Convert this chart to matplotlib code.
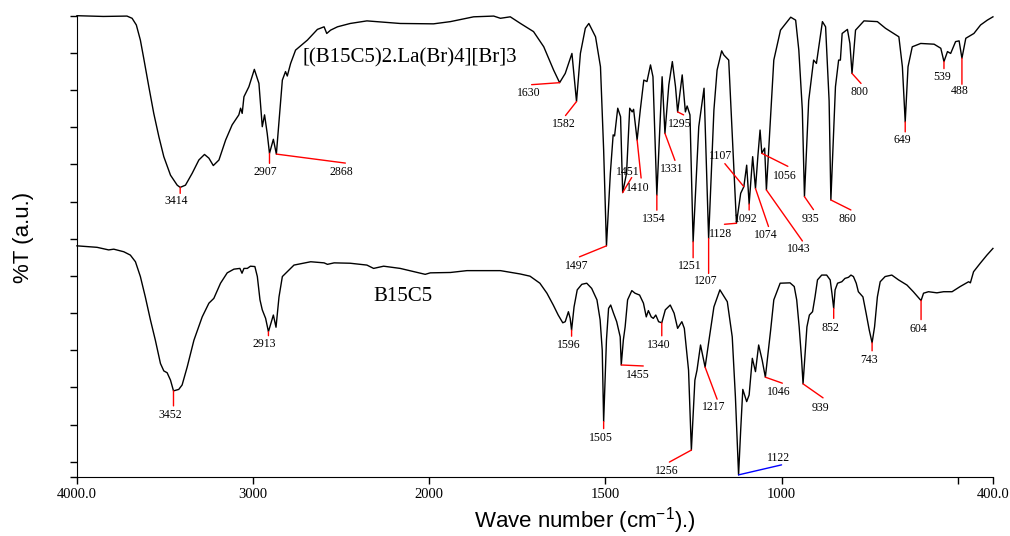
import numpy as np
import matplotlib
matplotlib.use("Agg")
import matplotlib.pyplot as plt

plt.rcParams["font.family"] = "Liberation Serif"
plt.rcParams["mathtext.fontset"] = "custom"
plt.rcParams["mathtext.rm"] = "Liberation Sans"

# complex [(B15C5)2.La(Br)4][Br]3, upper trace
complex_wn = [4000, 3850, 3716, 3687, 3663, 3640, 3621, 3592, 3564, 3535,
              3507, 3469, 3431, 3414, 3384, 3346, 3308, 3276, 3251, 3226,
              3194, 3156, 3119, 3081, 3071, 3062, 3052, 3024, 2993, 2967,
              2948, 2935, 2920, 2907, 2885, 2868, 2848, 2834, 2816, 2806,
              2787, 2759, 2692, 2635, 2597, 2582, 2560, 2521,
              2449, 2354, 2165, 1988, 1940,
              1874, 1817, 1798, 1770, 1741, 1704, 1675, 1647, 1630, 1614,
              1595, 1582, 1571, 1557, 1547, 1528, 1514, 1505, 1497, 1486,
              1478, 1474, 1465, 1457, 1451, 1440, 1431, 1424, 1420, 1410,
              1401, 1391, 1382, 1372, 1365, 1354, 1339, 1331, 1320, 1310,
              1301, 1295, 1282, 1273, 1268, 1260, 1251, 1235, 1220, 1207,
              1192, 1183, 1170, 1164, 1150, 1140, 1128, 1116, 1107, 1099,
              1092, 1082, 1074, 1067, 1061, 1056, 1048, 1043, 1031, 1022,
              1003, 974, 960, 951, 941, 935, 923, 909, 901, 884,
              875, 865, 860, 847, 838, 833, 828, 813, 806, 800,
              790, 766, 728, 705, 667, 657, 649, 641, 629, 605,
              567, 548, 539, 529, 520, 506, 496, 488, 477, 454,
              435, 416, 400]
complex_T = [124.6, 124.4, 124.5, 123.9, 122.1, 118.0, 113.1, 105.4, 98.2, 91.9,
             86.5, 81.5, 78.8, 78.2, 78.8, 82.0, 85.6, 87.1, 86.1, 84.1,
             85.6, 91.0, 95.1, 97.8, 99.6, 98.2, 102.7, 105.4, 110.1, 106.3,
             94.6, 97.8, 92.8, 87.4, 91.2, 87.2, 99.1, 107.2, 109.5, 108.3,
             111.7, 115.3, 118.0, 120.9, 121.6, 119.8, 120.7, 121.6,
             122.5, 123.2, 122.5, 122.4, 123.0,
             124.3, 124.5, 123.9, 124.3, 122.5, 120.3, 116.2, 109.9, 106.5, 109.0,
             114.4, 101.4, 114.4, 121.2, 122.5, 118.9, 110.8, 88.3, 62.4, 82.0,
             92.4, 92.1, 99.6, 97.3, 76.8, 82.0, 99.6, 98.6, 99.3, 91.0,
             99.1, 107.2, 106.8, 111.3, 108.1, 76.1, 108.1, 92.8, 105.9, 112.2,
             105.4, 98.6, 108.6, 98.6, 100.2, 97.8, 63.5, 94.6, 105.0, 64.4,
             99.1, 109.9, 115.1, 114.0, 112.6, 92.8, 68.5, 76.6, 78.4, 84.2,
             73.7, 86.5, 77.9, 86.9, 93.7, 87.4, 88.8, 77.5, 97.3, 112.6,
             120.7, 124.2, 123.4, 115.3, 99.1, 75.7, 101.6, 112.6, 111.7, 123.0,
             121.6, 101.6, 74.8, 105.4, 112.6, 112.6, 119.8, 120.9, 117.1, 109.0,
             120.7, 123.2, 123.0, 121.2, 118.9, 110.8, 95.9, 110.8, 116.2, 117.1,
             116.9, 115.8, 112.2, 114.9, 114.4, 117.6, 117.8, 113.1, 118.5, 119.8,
             122.1, 123.4, 124.3]

# free ligand B15C5, lower trace
ligand_wn = [4000, 3886, 3820, 3791, 3734, 3697, 3668, 3640, 3612, 3583,
             3555, 3526, 3507, 3488, 3469, 3452, 3422, 3403, 3374, 3336,
             3289, 3251, 3223, 3185, 3147, 3109, 3075, 3063, 3052, 3033,
             3015, 2990, 2976, 2961, 2948, 2929, 2913, 2885, 2870, 2853,
             2834, 2806, 2768, 2673, 2597, 2578, 2540,
             2449, 2354, 2316, 2259, 2165, 2023, 1997, 1940, 1893,
             1798, 1742, 1714, 1686, 1666, 1648, 1634, 1621, 1614, 1605,
             1600, 1596, 1589, 1580, 1567, 1553, 1539, 1524, 1515, 1509,
             1505, 1497, 1491, 1485, 1477, 1468, 1458, 1455, 1449, 1444,
             1437, 1425, 1416, 1403, 1392, 1384, 1378, 1370, 1364, 1357,
             1349, 1340, 1330, 1316, 1305, 1295, 1283, 1276, 1264, 1256,
             1246, 1240, 1230, 1217, 1206, 1192, 1175, 1154, 1140, 1131,
             1122, 1116, 1110, 1099, 1092, 1083, 1074, 1065, 1055, 1046,
             1031, 1022, 1004, 976, 964, 957, 950, 943, 939, 928,
             921, 912, 905, 898, 886, 872, 862, 857, 852, 848,
             841, 829, 820, 810, 803, 796, 788, 782, 769, 760,
             751, 743, 736, 728, 720, 706, 687, 668, 644, 626,
             604, 597, 583, 559, 540, 516, 493, 469, 464, 455,
             436, 417, 400]
ligand_T = [62.4, 62.0, 61.3, 61.5, 60.8, 59.9, 58.1, 54.1, 48.6, 42.4,
            36.9, 30.6, 28.6, 28.1, 26.1, 23.2, 23.6, 24.8, 29.7, 36.9,
            43.2, 46.9, 48.2, 52.3, 55.1, 56.1, 56.3, 55.0, 56.3, 56.3,
            56.9, 56.8, 54.1, 47.8, 45.1, 42.8, 39.2, 43.7, 40.4, 48.6,
            54.1, 55.4, 57.2, 58.1, 57.8, 57.4, 57.8,
            57.7, 57.2, 56.3, 56.9, 56.3, 54.7, 55.1, 55.2, 55.7,
            55.7, 54.8, 54.2, 52.3, 49.6, 46.4, 43.7, 41.6, 41.9, 44.6,
            42.8, 39.6, 45.9, 50.5, 52.0, 52.3, 50.9, 47.8, 42.4, 34.2,
            14.9, 37.0, 45.5, 46.4, 44.2, 41.9, 37.8, 30.2, 37.0, 40.5,
            47.8, 50.3, 49.6, 49.1, 46.9, 43.2, 44.9, 43.2, 42.8, 43.7,
            41.9, 41.6, 45.1, 46.4, 44.2, 40.1, 41.9, 40.1, 28.8, 7.2,
            26.1, 28.8, 35.6, 29.6, 36.9, 45.9, 50.5, 47.3, 37.8, 21.6,
            0.5, 12.6, 23.6, 20.3, 22.1, 32.0, 28.4, 35.6, 31.5, 26.9,
            39.6, 47.8, 52.3, 52.4, 51.4, 47.8, 40.5, 31.5, 25.1, 40.5,
            43.7, 44.6, 48.6, 53.2, 54.5, 54.5, 53.2, 49.6, 45.5, 50.5,
            52.3, 52.7, 53.6, 53.9, 54.5, 54.1, 52.3, 50.0, 48.6, 44.2,
            39.6, 36.2, 40.5, 48.6, 52.7, 54.1, 54.5, 53.2, 51.8, 50.0,
            47.6, 49.6, 50.0, 49.7, 50.0, 50.0, 51.4, 52.7, 52.4, 55.4,
            57.7, 59.9, 61.7]

complex_peaks = [3414, 2907, 2868, 1630, 1582, 1497, 1451, 1410, 1354, 1331,
                 1295, 1251, 1207, 1128, 1107, 1092, 1074, 1056, 1043, 935,
                 860, 800, 649, 539, 488]
ligand_peaks = [3452, 2913, 1596, 1505, 1455, 1340, 1256, 1217, 1122, 1046,
                939, 852, 743, 604]

# leader line end / label centre, pixel offsets from the peak
complex_offsets = [((0, -6), (-4, -14)), ((0, -10), (-4, -19)), ((69, -9), (65, -18)),
                   ((-28, -2), (-31, -10)), ((-11, -14), (-13, -22)), ((-27, -11), (-30, -20)),
                   ((9, 15), (5, 21)), ((4, -38), (1, -48)), ((0, -15), (-3, -24)),
                   ((10, -27), (7, -36)), ((6, -3), (2, -12)), ((0, -16), (-3, -24)),
                   ((0, -35), (-3, -43)), ((-12, -1), (-16, -11)), ((-19, 23), (-23, 31)),
                   ((0, -6), (-3, -15)), ((13, -38), (10, -47)), ((26, -13), (23, -23)),
                   ((36, -51), (32, -59)), ((9, -13), (6, -22)), ((20, -10), (17, -19)),
                   ((9, -10), (7, -19)), ((0, -10), (-3, -18)), ((0, -7), (-2, -15)),
                   ((0, -26), (-2, -33))]
ligand_offsets = [((0, -15), (-3, -24)), ((0, -4), (-4, -12)), ((0, -6), (-3, -15)),
                  ((0, -7), (-3, -16)), ((22, -1), (17, -10)), ((0, -13), (-3, -22)),
                  ((-22, -12), (-25, -21)), ((12, -32), (9, -40)), ((43, 10), (40, 17)),
                  ((17, -6), (13, -15)), ((20, -14), (17, -24)), ((0, -10), (-3, -20)),
                  ((0, -8), (-3, -17)), ((0, -19), (-3, -28))]


def fwd(x):
    x = np.asarray(x, dtype=float)
    return np.where(x >= 2000, x, 2 * x - 2000)


def inv(y):
    y = np.asarray(y, dtype=float)
    return np.where(y >= 2000, y, (y + 2000) / 2)


fig = plt.figure(figsize=(10.1, 5.36), dpi=100)
ax = fig.add_axes([0.0762, 0.1106, 0.9069, 0.8601])
ax.set_xscale("function", functions=(fwd, inv))

ax.plot(complex_wn, complex_T, color="black", lw=1.0, clip_on=False)
ax.plot(ligand_wn, ligand_T, color="black", lw=1.0, clip_on=False)


def label_peaks(wn, T, peaks, offsets, colors):
    for p, (line_off, text_off), c in zip(peaks, offsets, colors):
        y = np.interp(p, wn[::-1], T[::-1])
        ax.annotate("", xy=(p, y), xytext=line_off, textcoords="offset pixels",
                    arrowprops=dict(arrowstyle="-", color=c, lw=1.0,
                                    shrinkA=0, shrinkB=0))
        ax.annotate(str(p), xy=(p, y), xytext=text_off, textcoords="offset pixels",
                    ha="center", va="center", fontsize=8.5)


label_peaks(complex_wn, complex_T, complex_peaks, complex_offsets,
            ["red"] * len(complex_peaks))
label_peaks(ligand_wn, ligand_T, ligand_peaks, ligand_offsets,
            ["blue" if p == 1122 else "red" for p in ligand_peaks])

ax.text(2722, 113.2, "[(B15C5)2.La(Br)4][Br]3", fontsize=15, ha="left", va="center")
ax.text(2320, 48.6, "B15C5", fontsize=15, ha="left", va="center")

ax.set_xlim(4000, 400)
ax.set_ylim(0, 124.6)
ax.set_xticks([4000, 3000, 2000, 1500, 1000, 500, 400])
ax.set_xticklabels(["4000.0", "3000", "2000", "1500", "1000", "", "400.0"])
ax.set_yticks([0] + list(np.linspace(4.05, 124.6, 13)))
ax.set_yticklabels([])
ax.tick_params(direction="out", length=5, width=1, labelsize=10.5, pad=3)
ax.spines["top"].set_visible(False)
ax.spines["right"].set_visible(False)

ax.set_xlabel("Wave number (cm$^{-1}$).)", family="Liberation Sans", fontsize=16)
ax.xaxis.set_label_coords(0.555, -0.061)
fig.text(23 / 1010, 1 - 237 / 536, "%T (a.u.)", rotation=90, ha="center", va="center",
         family="Liberation Sans", fontsize=16)

fig.savefig("out.png", dpi=100)
